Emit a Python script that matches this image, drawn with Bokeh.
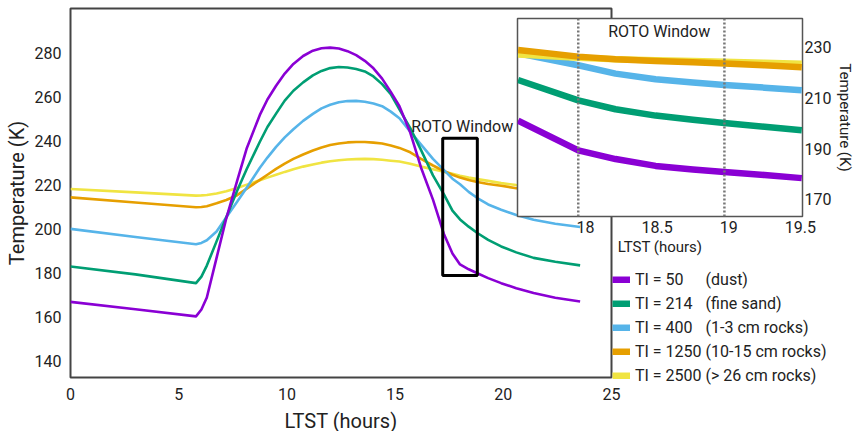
from bokeh.plotting import figure
from bokeh.models import (Range1d, FixedTicker, Legend, LegendItem,
                          BoxAnnotation, Label, Span, CustomJSTickFormatter)
from bokeh.embed import file_html
from bokeh.resources import INLINE

# ---------------- data ----------------
series_labels = [
    "TI = 50\u2007\u2007 (dust)",
    "TI = 214\u2007 (fine sand)",
    "TI = 400\u2007 (1-3 cm rocks)",
    "TI = 1250 (10-15 cm rocks)",
    "TI = 2500 (> 26 cm rocks)",
]
colors = ["#8a00d4", "#009E73", "#56B4E9", "#E69F00", "#F0E442"]

main_t = [0, 3, 5.8, 6.05, 6.3, 6.75, 7.2, 7.7, 8.15, 8.75,
          9.1, 9.5, 9.9, 10.3, 10.75, 11.2, 11.6, 12.0, 12.4, 12.8,
          13.2, 13.6, 14.0, 14.4, 14.8, 15.2, 15.7, 16.2, 16.75, 17.25,
          17.65, 18.0, 18.4, 18.8, 19.3, 19.9, 20.6, 21.4, 22.4, 23.55]
ti50 = [167, 163.6, 160.4, 163.5, 169, 187, 205, 222, 237, 252,
        259, 265.3, 270.8, 275.2, 278.8, 281.2, 282.3, 282.6, 282.2, 281,
        279.2, 276.6, 273.2, 268.5, 262.5, 256, 244, 228, 213.5, 198,
        189, 184, 181.8, 180, 177.8, 175.5, 173.2, 171, 168.9, 167.2]
ti214 = [183.1, 179.5, 175.5, 178.5, 183.5, 194.5, 205.5, 217.5, 227.5, 239.8,
         246.5, 252.6, 258.5, 263, 266.8, 270, 272, 273.3, 273.8, 273.6,
         272.9, 271.8, 269.5, 266, 261.5, 254.5, 246, 236, 224.5, 216,
         208.5, 204.5, 201.2, 198.3, 195.2, 192.2, 189.5, 187, 185.2, 183.6]
ti400 = [200.2, 196.5, 193.2, 193.8, 195, 199, 205.5, 212.5, 219, 228,
         232.6, 237.5, 241.8, 245.5, 249.3, 252.5, 255, 256.6, 257.8, 258.3,
         258.4, 258, 257.2, 256, 253.5, 250.5, 244.4, 238.5, 232, 227,
         223, 220.5, 217, 214.2, 211.3, 208.9, 206.5, 204.3, 202.5, 201]
ti1250 = [214.5, 212.2, 210, 210.1, 210.5, 211.8, 213.3, 215.5, 218.5, 222.5,
          224.8, 227.5, 229.9, 232, 234, 235.8, 237.2, 238.3, 239, 239.5,
          239.7, 239.7, 239.4, 239, 238.1, 237, 235, 232, 229, 226.5,
          224.8, 223.5, 222.4, 221.5, 220.6, 219.8, 218.7, 217.5, 216.2, 215]
ti2500 = [218.3, 216.8, 215.3, 215.4, 215.6, 216.3, 217.3, 218.8, 220.3, 222.3,
          223.5, 224.8, 226.1, 227.3, 228.5, 229.5, 230.3, 230.9, 231.4, 231.7,
          231.9, 232, 231.9, 231.6, 231.2, 230.8, 229.8, 228.5, 227.3, 226.2,
          225.2, 224.3, 223.5, 222.8, 222, 221, 220.1, 219.3, 218.4, 217.5]

inset_t = [17.53, 17.95, 18.21, 18.49, 18.75, 18.97, 19.25, 19.51]
ti50_in = [201, 189.3, 185.9, 183.2, 181.8, 180.8, 179.6, 178.4]
ti214_in = [217, 209, 205.5, 203, 201.4, 200.1, 198.6, 197.2]
ti400_in = [227.5, 222.8, 219.5, 217.3, 216, 215, 214, 213]
ti1250_in = [228.8, 226.2, 225.2, 224.5, 224, 223.5, 222.8, 222]
ti2500_in = [227, 225.8, 225.2, 224.8, 224.5, 224.2, 223.8, 223.4]

x_ticks = [0, 5, 10, 15, 20, 25]
y_ticks = [140, 160, 180, 200, 220, 240, 260, 280]
inset_x_ticks = [18, 18.5, 19, 19.5]
inset_y_ticks = [170, 190, 210, 230]
roto_box = [17.2, 18.8, 179, 241.4]       # left, right, bottom, top
roto_window = [17.95, 18.97]              # dotted lines in inset
roto_label_main = [18.1, 246.7]
roto_label_inset = [18.515, 235.9]

FONT = "Roboto"
TXT = "#222222"

# ---------------- main figure ----------------
p = figure(width=858, height=437, x_range=Range1d(0, 25), y_range=Range1d(132.6, 300.4),
           output_backend="svg", toolbar_location=None,
           min_border_left=70, min_border_right=247, min_border_top=8, min_border_bottom=60)
p.grid.visible = False
p.outline_line_color = "#444444"
p.outline_line_width = 2
p.background_fill_color = "white"
p.border_fill_color = "white"

p.xaxis.ticker = FixedTicker(ticks=x_ticks)
p.yaxis.ticker = FixedTicker(ticks=y_ticks)
p.xaxis.axis_label = "LTST (hours)"
p.yaxis.axis_label = "Temperature (K)"
for ax in (p.xaxis[0], p.yaxis[0]):
    ax.axis_line_color = None
    ax.major_tick_line_color = None
    ax.minor_tick_line_color = None
    ax.major_tick_out = 0
    ax.major_tick_in = 0
    ax.major_label_text_font = FONT
    ax.major_label_text_font_size = "16px"
    ax.major_label_text_color = TXT
    ax.axis_label_text_font = FONT
    ax.axis_label_text_font_size = "20px"
    ax.axis_label_text_font_style = "normal"
    ax.axis_label_text_color = TXT
p.xaxis.major_label_standoff = 10
p.xaxis.axis_label_standoff = 6
p.yaxis.major_label_standoff = 9
p.yaxis.axis_label_standoff = 3

main_series = [ti2500, ti1250, ti400, ti214, ti50]
main_colors = colors[::-1]
for vals, c in zip(main_series, main_colors):
    p.line(main_t, vals, line_color=c, line_width=2.6, line_join="round")

p.add_layout(BoxAnnotation(left=roto_box[0], right=roto_box[1], bottom=roto_box[2], top=roto_box[3],
                           fill_alpha=0, line_color="black", line_alpha=1.0, line_width=3))
p.add_layout(Label(x=roto_label_main[0], y=roto_label_main[1], text="ROTO Window",
                   text_font=FONT, text_font_size="16px", text_color=TXT,
                   text_align="center", text_baseline="middle"))

# ---------------- inset figure ----------------
p2 = figure(width=342, height=242, x_range=Range1d(17.526, 19.515), y_range=Range1d(163.3, 241.2),
            y_axis_location="right", output_backend="svg", toolbar_location=None,
            min_border_left=2, min_border_top=2, min_border_right=52, min_border_bottom=42)
p2.grid.visible = False
p2.border_fill_color = None
p2.background_fill_color = "white"
p2.outline_line_color = "#555555"
p2.outline_line_width = 1.5
p2.xaxis.ticker = FixedTicker(ticks=inset_x_ticks)
p2.yaxis.ticker = FixedTicker(ticks=inset_y_ticks)
p2.xaxis.formatter = CustomJSTickFormatter(code="return tick.toString()")
p2.xaxis.axis_label = "LTST (hours)"
p2.yaxis.axis_label = "Temperature (K)"
for ax in (p2.xaxis[0], p2.yaxis[0]):
    ax.axis_line_color = None
    ax.major_tick_line_color = None
    ax.minor_tick_line_color = None
    ax.major_tick_out = 0
    ax.major_tick_in = 0
    ax.major_label_text_font = FONT
    ax.major_label_text_font_size = "16px"
    ax.major_label_text_color = TXT
    ax.axis_label_text_font = FONT
    ax.axis_label_text_font_size = "15px"
    ax.axis_label_text_font_style = "normal"
    ax.axis_label_text_color = TXT
p2.xaxis.major_label_standoff = 4
p2.xaxis.axis_label_standoff = 2
p2.yaxis.major_label_standoff = 2
p2.yaxis.axis_label_standoff = 2

for xw in roto_window:
    p2.add_layout(Span(location=xw, dimension="height", line_color="#777777",
                       line_width=2.5, line_dash="2 2"))
inset_series = [ti50_in, ti214_in, ti400_in, ti2500_in, ti1250_in]
inset_colors = [colors[0], colors[1], colors[2], colors[4], colors[3]]
for vals, c in zip(inset_series, inset_colors):
    p2.line(inset_t, vals, line_color=c, line_width=6.5, line_join="round")
p2.add_layout(Label(x=roto_label_inset[0], y=roto_label_inset[1], text="ROTO Window",
                    text_font=FONT, text_font_size="16px", text_color=TXT,
                    text_align="center", text_baseline="middle"))

# ---------------- legend figure (series drawn out of view, only swatches show) ----------------
p3 = figure(width=246, height=160, x_range=Range1d(-3, -2), y_range=Range1d(0, 1),
            x_axis_type=None, y_axis_type=None, output_backend="svg", toolbar_location=None,
            min_border_left=0, min_border_right=0, min_border_top=0, min_border_bottom=0)
p3.grid.visible = False
p3.outline_line_color = None
p3.background_fill_color = None
p3.border_fill_color = None
items = []
for lab, c, vals in zip(series_labels, colors, [ti50, ti214, ti400, ti1250, ti2500]):
    r = p3.line(main_t, vals, line_color=c, line_width=7, line_cap="butt")
    items.append(LegendItem(label=lab, renderers=[r]))
leg = Legend(items=items, location="top_left", padding=0, margin=0, spacing=4,
             glyph_width=18, glyph_height=7, label_height=20, label_standoff=5,
             label_text_font=FONT, label_text_font_size="16px", label_text_color=TXT,
             border_line_color=None, background_fill_alpha=0)
p3.add_layout(leg, "center")

template = """
{% block contents %}
<div style="position:relative;width:858px;height:431px;overflow:hidden;">
  <div style="position:absolute;left:0px;top:0px;">{{ embed(roots[0]) }}</div>
  <div style="position:absolute;left:515px;top:16px;">{{ embed(roots[1]) }}</div>
  <div style="position:absolute;left:612px;top:269px;">{{ embed(roots[2]) }}</div>
</div>
{% endblock %}
"""

open("out.html", "w").write(file_html([p, p2, p3], INLINE, template=template))
